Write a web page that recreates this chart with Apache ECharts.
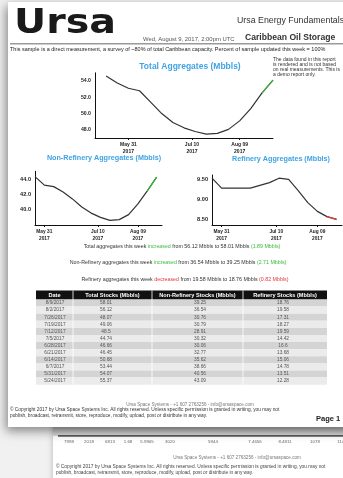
<!DOCTYPE html>
<html>
<head>
<meta charset="utf-8">
<script src="https://cdn.jsdelivr.net/npm/echarts@6/dist/echarts.min.js"></script>
<style>
  html, body { margin: 0; padding: 0; background: #f1f1f1; }
  #c { width: 343px; height: 478px; }
</style>
</head>
<body>
<div id="c"></div>
<script>
// Weekly sample dates used by the aggregate lines
const weeks = ['2017-05-17','2017-05-24','2017-05-31','2017-06-07','2017-06-14','2017-06-21','2017-06-28','2017-07-05','2017-07-12','2017-07-19','2017-07-26','2017-08-02','2017-08-09','2017-08-16','2017-08-23','2017-08-30'];
// Total aggregates (Mbbls), one per week above
const totalAgg = [54.6, 53.75, 53.1, 52.8, 51.4, 50.0, 48.9, 48.25, 47.8, 47.48, 47.57, 48.06, 49.1, 50.6, 52.5, 54.1];
// Non-refinery and refinery aggregates cover May 24 - Aug 23
const sideWeeks = weeks.slice(1, 15);
const nonRefAgg = [44.3, 43.2, 43.0, 42.3, 41.4, 40.35, 39.55, 39.0, 38.6, 38.7, 39.35, 40.75, 42.45, 44.25];
const refAgg = [9.52, 9.27, 9.27, 9.27, 9.27, 9.34, 9.41, 9.52, 9.49, 9.21, 8.91, 8.69, 8.56, 8.49];

// Axis spans (daily categories) and labelled days
const totalRange = ['2017-05-10', '2017-08-30'];
const sideRange = ['2017-05-24', '2017-08-27'];
const tickDays = ['2017-05-31', '2017-07-10', '2017-08-09'];

// Stock table
const tableHead = ['Date', 'Total Stocks (Mbbls)', 'Non-Refinery Stocks (Mbbls)', 'Refinery Stocks (Mbbls)'];
const tableDates = ['8/9/2017','8/2/2017','7/26/2017','7/19/2017','7/12/2017','7/5/2017','6/28/2017','6/21/2017','6/14/2017','6/7/2017','5/31/2017','5/24/2017'];
const totalStocks = [58.01, 56.12, 48.07, 49.06, 48.5, 44.74, 46.66, 46.45, 50.68, 53.44, 54.07, 55.37];
const nonRefStocks = [39.25, 36.54, 30.76, 30.79, 28.91, 30.32, 30.06, 32.77, 35.62, 38.66, 40.56, 43.09];
const refStocks = [18.76, 19.58, 17.31, 18.27, 19.59, 14.42, 16.6, 13.68, 15.06, 14.78, 13.51, 12.28];

// Partly hidden table row on the next page
const nextPageRow = ['7998', '2018', '6813', '1.68', '5.9905', '3020', '5944', '7.4656', '8.4811', '1078', '1146'];

const MONTHS = ['Jan','Feb','Mar','Apr','May','Jun','Jul','Aug','Sep','Oct','Nov','Dec'];
const FONT = '"Liberation Sans", Arial, sans-serif';
const BLUE = '#3fa3e3';
const GREEN = '#3cb93c';
const RED = '#e03a3a';

function dayList(range) {
  const out = [];
  const end = Date.parse(range[1] + 'T00:00:00Z');
  for (let t = Date.parse(range[0] + 'T00:00:00Z'); t <= end; t += 864e5) {
    out.push(new Date(t).toISOString().slice(0, 10));
  }
  return out;
}
function dayLabel(v) {
  return MONTHS[+v.slice(5, 7) - 1] + ' ' + v.slice(8) + '\n' + v.slice(0, 4);
}

function xAx(gridIndex, range, fs) {
  return {
    type: 'category', gridIndex, data: dayList(range), boundaryGap: false,
    axisLine: { lineStyle: { color: '#111', width: 1 } },
    axisTick: { show: true, length: 2, lineStyle: { color: '#111' } },
    axisLabel: {
      interval: (i, v) => tickDays.includes(v),
      formatter: dayLabel, fontSize: fs, lineHeight: fs * 1.45,
      color: '#222', fontWeight: 'bold', margin: 3, fontFamily: FONT
    },
    splitLine: { show: false }
  };
}
function yAx(gridIndex, extra, fs, digits) {
  return Object.assign({
    type: 'value', gridIndex, scale: true,
    axisLine: { show: true, lineStyle: { color: '#111', width: 1 } },
    axisTick: { show: false },
    splitLine: { show: false },
    axisLabel: {
      showMinLabel: false, showMaxLabel: false,
      formatter: v => v.toFixed(digits), fontSize: fs, color: '#222',
      fontWeight: 'bold', margin: 4, fontFamily: FONT
    }
  }, extra);
}
function lineSeries(idx, dates, vals, tailColor) {
  const pts = dates.map((d, i) => [d, vals[i]]);
  return [
    { type: 'line', xAxisIndex: idx, yAxisIndex: idx, data: pts, symbol: 'none',
      lineStyle: { color: '#333', width: 1.2 }, z: 3 },
    { type: 'line', xAxisIndex: idx, yAxisIndex: idx, data: pts.slice(-2), symbol: 'none',
      lineStyle: { color: tailColor, width: 1.2 }, z: 4 }
  ];
}

function txt(text, x, y, size, opts) {
  opts = opts || {};
  return {
    type: 'text', x, y, z: opts.z != null ? opts.z : -1, silent: true,
    style: {
      text, fontSize: size, fontFamily: opts.family || FONT,
      fontWeight: opts.weight || 'normal', fill: opts.fill || '#333',
      align: opts.align || 'left', verticalAlign: 'middle'
    }
  };
}

function summary(name, arr) {
  const prev = arr[1], cur = arr[0];
  const up = cur >= prev;
  const c = up ? 'g' : 'r';
  return '{a|' + name + ' aggregates this week }{' + c + '|' + (up ? 'increased' : 'decreased') +
    '}{a| from ' + prev.toFixed(2) + ' Mbbls to ' + cur.toFixed(2) + ' Mbbls }{' + c + '|(' +
    Math.abs(cur - prev).toFixed(2) + ' Mbbls)}';
}
function richLine(text, x, y) {
  const base = { fontSize: 5.3, fontFamily: FONT };
  return {
    type: 'text', x, y, z: -1, silent: true,
    style: {
      text, align: 'center', verticalAlign: 'middle',
      rich: {
        a: Object.assign({ fill: '#333' }, base),
        g: Object.assign({ fill: GREEN }, base),
        r: Object.assign({ fill: RED }, base)
      }
    }
  };
}

const g = [];
// next page peeking out below
g.push({ type: 'rect', z: -4, shape: { x: 53, y: 400, width: 310, height: 100 },
  style: { fill: '#fff', shadowBlur: 6, shadowColor: 'rgba(0,0,0,0.25)' } });
g.push({ type: 'rect', z: -3, shape: { x: 53, y: 427, width: 310, height: 9 },
  style: { fill: new echarts.graphic.LinearGradient(0, 0, 0, 1, [
    { offset: 0, color: '#b9b9b9' }, { offset: 1, color: '#dedede' }]) } });
g.push({ type: 'rect', z: -3, shape: { x: 58, y: 435, width: 300, height: 1.8 }, style: { fill: '#5a5a5a' } });
const nextX = [69, 89, 110, 128, 147, 170, 213, 255, 285, 315, 342];
nextPageRow.forEach((t, i) => g.push(txt(t, nextX[i], 442, 4.4, { align: 'center', fill: '#666', z: -3 })));
g.push(txt('Ursa Space Systems - +1 607 2763256 - info@ursaspace.com', 237, 458, 4.6, { align: 'center', fill: '#777', z: -3 }));
g.push(txt('\u00a9 Copyright 2017 by Ursa Space Systems Inc. All rights reserved. Unless specific permission is granted in writing, you may not', 56, 467, 4.8, { fill: '#444', z: -3 }));
g.push(txt('publish, broadcast, retransmit, store, reproduce, modify, upload, post or distribute in any way.', 56, 473, 4.8, { fill: '#444', z: -3 }));

// main page
g.push({ type: 'rect', z: -2, shape: { x: 8, y: 2, width: 345, height: 425 },
  style: { fill: '#fff', shadowBlur: 10, shadowColor: 'rgba(0,0,0,0.45)', shadowOffsetY: 4, shadowOffsetX: -2 } });

// header
g.push({ type: 'text', x: 14, y: 24, z: -1, scaleX: 1.2, silent: true,
  style: { text: 'Ursa', fontSize: 33, fontWeight: 'bold', fontFamily: '"DejaVu Sans", sans-serif',
    fill: '#1a1a1a', verticalAlign: 'middle' } });
g.push(txt('Ursa Energy Fundamentals', 237, 21, 8.8, { fill: '#333' }));
g.push(txt('Caribbean Oil Storage', 245, 38, 8.6, { weight: 'bold', fill: '#333' }));
g.push(txt('Wed, August 9, 2017, 2:00pm UTC', 143, 39.5, 5.9, { fill: '#555' }));
g.push({ type: 'rect', z: -1, shape: { x: 10, y: 43, width: 335, height: 1.5 }, style: { fill: '#9a9a9a' } });
g.push(txt('This sample is a direct measurement, a survey of ~80% of total Caribbean capacity. Percent of sample updated this week = 100%', 10, 49, 5.5, { fill: '#222' }));

// note next to the total chart
['The data found in this report', 'is rendered and is not based', 'on real measurements. This is', 'a demo report only.']
  .forEach((t, i) => g.push(txt(t, 273, 60 + i * 5, 5, { fill: '#333' })));

// chart titles
g.push(txt('Total Aggregates (Mbbls)', 190, 66.5, 8.5, { weight: 'bold', fill: BLUE, align: 'center' }));
g.push(txt('Non-Refinery Aggregates (Mbbls)', 104, 158.5, 7.2, { weight: 'bold', fill: BLUE, align: 'center' }));
g.push(txt('Refinery Aggregates (Mbbls)', 281, 159.5, 7.2, { weight: 'bold', fill: BLUE, align: 'center' }));

// weekly change summary
g.push(richLine(summary('Total', totalStocks), 182, 246.5));
g.push(richLine(summary('Non-Refinery', nonRefStocks), 178, 263));
g.push(richLine(summary('Refinery', refStocks), 185, 279.5));

// stock table
const colEdges = [36, 73, 152, 243, 327];
const valueX = [55, 106, 200, 283];
const headTop = 290.5, headH = 9, rowH = 7.1;
g.push({ type: 'rect', z: -1, shape: { x: colEdges[0], y: headTop, width: colEdges[4] - colEdges[0], height: headH }, style: { fill: '#111' } });
tableHead.forEach((t, i) => g.push(txt(t, (colEdges[i] + colEdges[i + 1]) / 2, headTop + headH / 2, 5.6,
  { weight: 'bold', fill: '#fff', align: 'center' })));
tableDates.forEach((d, r) => {
  const top = headTop + headH + r * rowH;
  g.push({ type: 'rect', z: -1, shape: { x: colEdges[0], y: top, width: colEdges[4] - colEdges[0], height: rowH },
    style: { fill: r % 2 === 0 ? '#d4d4d4' : '#ebebeb' } });
  [d, totalStocks[r], nonRefStocks[r], refStocks[r]].forEach((v, c) =>
    g.push(txt(String(v), valueX[c], top + rowH / 2, 4.8, { fill: '#555', align: 'center' })));
});
const tableBottom = headTop + headH + tableDates.length * rowH;
colEdges.slice(1, 4).forEach(x => g.push({ type: 'rect', z: -1,
  shape: { x: x - 0.4, y: headTop, width: 0.8, height: tableBottom - headTop }, style: { fill: '#fff' } }));

// footer
g.push(txt('Ursa Space Systems - +1 607 2763256 - info@ursaspace.com', 190, 404.5, 4.6, { align: 'center', fill: '#777' }));
g.push(txt('\u00a9 Copyright 2017 by Ursa Space Systems Inc. All rights reserved. Unless specific permission is granted in writing, you may not', 10, 410, 4.8, { fill: '#333' }));
g.push(txt('publish, broadcast, retransmit, store, reproduce, modify, upload, post or distribute in any way.', 10, 415.5, 4.8, { fill: '#333' }));
g.push(txt('Page 1', 316, 419, 7.5, { weight: 'bold', fill: '#222' }));

const option = {
  backgroundColor: '#f1f1f1',
  animation: false,
  grid: [
    { left: 95, top: 72.8, width: 178, height: 65.2, outerBoundsMode: 'none' },
    { left: 35, top: 171.3, width: 127, height: 53.7, outerBoundsMode: 'none' },
    { left: 212, top: 175, width: 130, height: 50, outerBoundsMode: 'none' }
  ],
  xAxis: [xAx(0, totalRange, 5), xAx(1, sideRange, 4.8), xAx(2, sideRange, 4.8)],
  yAxis: [
    yAx(0, { min: 47, max: 55, splitNumber: 4 }, 5.2, 1),
    yAx(1, { min: 38, max: 45, interval: 2 }, 5.6, 1),
    yAx(2, { min: 8.35, max: 9.6, splitNumber: 3 }, 5.6, 2)
  ],
  series: [].concat(
    lineSeries(0, weeks, totalAgg, GREEN),
    lineSeries(1, sideWeeks, nonRefAgg, GREEN),
    lineSeries(2, sideWeeks, refAgg, RED)
  ),
  graphic: { elements: g }
};

const chart = echarts.init(document.getElementById('c'));
chart.setOption(option);
</script>
</body>
</html>
